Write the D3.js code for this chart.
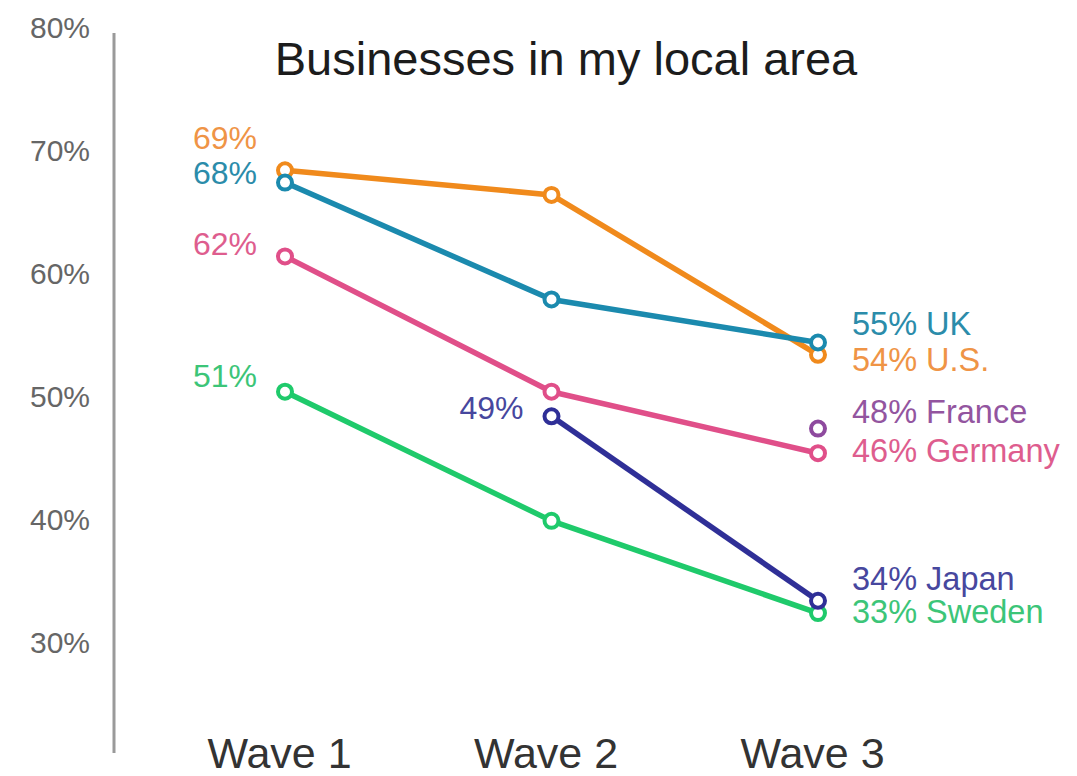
<!DOCTYPE html>
<html>
<head>
<meta charset="utf-8">
<script src="https://cdn.jsdelivr.net/npm/d3@7"></script>
<style>
  html, body { margin: 0; padding: 0; background: #fff; }
  svg { display: block; font-family: "Liberation Sans", Arial, Helvetica, sans-serif; }
</style>
</head>
<body>
<svg id="chart" width="1077" height="776"></svg>
<script>
// Survey waves on the x axis
const waves = ["Wave 1", "Wave 2", "Wave 3"];

// Share of respondents trusting businesses in their local area (%), per wave
const seriesNames = ["Sweden", "Germany", "France", "U.S.", "Japan", "UK"];
const swedenValues  = [51, 40.5, 33];
const germanyValues = [62, 51, 46];
const franceValues  = [null, null, 48];
const usValues      = [69, 67, 54];
const japanValues   = [null, 49, 34];
const ukValues      = [68, 58.5, 55];

const yTicks = [30, 40, 50, 60, 70, 80];
const titleText = "Businesses in my local area";

// Visual styling per series (line colour, label colour)
const lineColors  = ["#1fca6b", "#e04f89", "#8e4a9e", "#f08a1c", "#2f2f97", "#1b8aae"];
const labelColors = ["#3cc578", "#de5d8e", "#93559f", "#ef9446", "#47479e", "#2b8caa"];

// Label nudges (px) so that neighbouring end labels don't collide
const startLabelDy = { "Sweden": -5, "Germany": -1, "U.S.": -21, "UK": 1, "Japan": 3 };
const endLabelDy   = { "Sweden": 10, "Germany": 9, "France": -6, "U.S.": 16, "Japan": -11, "UK": -8 };

const allValues = [swedenValues, germanyValues, franceValues, usValues, japanValues, ukValues];
const series = seriesNames.map((name, i) => ({
  name,
  color: lineColors[i],
  labelColor: labelColors[i],
  points: waves.map((w, j) => ({ wave: w, value: allValues[i][j] })).filter(p => p.value != null)
}));

const svg = d3.select("#chart");

const x = d3.scalePoint().domain(waves).range([285, 818]);
const y = d3.scaleLinear().domain([30, 80]).range([650, 35]);

// Title
svg.append("text")
  .attr("x", 566)
  .attr("y", 75)
  .attr("text-anchor", "middle")
  .attr("font-size", 47)
  .attr("fill", "#1c1c1c")
  .text(titleText);

// Vertical value axis
const yAxis = d3.axisLeft(y)
  .tickValues(yTicks)
  .tickSize(0)
  .tickPadding(24)
  .tickFormat(d => d + "%");

const yg = svg.append("g")
  .attr("transform", "translate(114,0)")
  .call(yAxis);
yg.select(".domain").remove();
yg.selectAll("text")
  .attr("font-size", 30)
  .attr("font-family", "Liberation Sans, Arial, sans-serif")
  .attr("fill", "#666")
  .attr("dy", "0.07em");

svg.append("line")
  .attr("x1", 114).attr("x2", 114)
  .attr("y1", 33).attr("y2", 753)
  .attr("stroke", "#9a9a9a")
  .attr("stroke-width", 3);

// Wave axis labels
const xAxis = d3.axisBottom(x).tickSize(0).tickPadding(0);
const xg = svg.append("g")
  .attr("transform", "translate(-6,768)")
  .call(xAxis);
xg.select(".domain").remove();
xg.selectAll("text")
  .attr("font-size", 43)
  .attr("font-family", "Liberation Sans, Arial, sans-serif")
  .attr("fill", "#333")
  .attr("dy", 0)
  .attr("y", 0);

// Lines
const line = d3.line().x(d => x(d.wave)).y(d => y(d.value));
svg.append("g").selectAll("path")
  .data(series.filter(s => s.points.length > 1))
  .join("path")
  .attr("d", s => line(s.points))
  .attr("fill", "none")
  .attr("stroke", s => s.color)
  .attr("stroke-width", 5.5)
  .attr("stroke-linejoin", "round");

// Hollow markers
series.forEach(s => {
  svg.append("g").selectAll("circle")
    .data(s.points)
    .join("circle")
    .attr("cx", d => x(d.wave))
    .attr("cy", d => y(d.value))
    .attr("r", 7)
    .attr("fill", "#fff")
    .attr("stroke", s.color)
    .attr("stroke-width", 4);
});

// Start labels (value only), right-aligned left of the first point
series.forEach(s => {
  const p = s.points[0];
  if (p.wave === "Wave 3") return;
  svg.append("text")
    .attr("x", x(p.wave) - 28)
    .attr("y", y(p.value) + (startLabelDy[s.name] || 0))
    .attr("text-anchor", "end")
    .attr("font-size", 32)
    .attr("fill", s.labelColor)
    .text(p.value + "%");
});

// End labels (value and country), left-aligned right of the last point
series.forEach(s => {
  const p = s.points[s.points.length - 1];
  svg.append("text")
    .attr("x", x(p.wave) + 34)
    .attr("y", y(p.value) + (endLabelDy[s.name] || 0))
    .attr("text-anchor", "start")
    .attr("font-size", 32.5)
    .attr("fill", s.labelColor)
    .text(p.value + "% " + s.name);
});
</script>
</body>
</html>
